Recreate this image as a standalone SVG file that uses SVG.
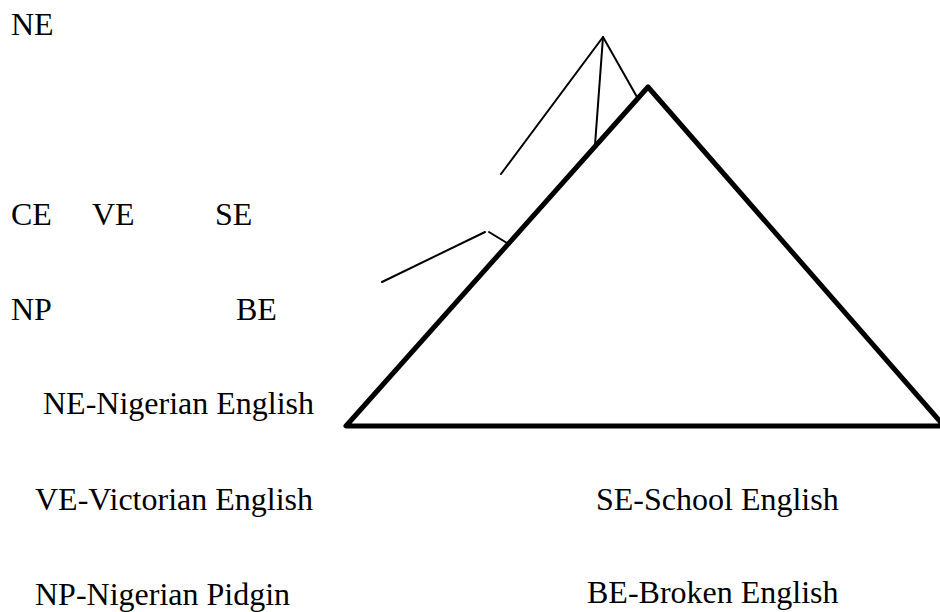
<svg xmlns="http://www.w3.org/2000/svg" width="940" height="612" viewBox="0 0 940 612">
<style>
text{font-family:"Liberation Serif","Times New Roman",serif;font-size:32px;fill:#000}
.thin{stroke:#000;stroke-width:2;fill:none;stroke-linecap:round}
.tri{stroke:#000;stroke-width:5;fill:none;stroke-linejoin:round}
</style>
<rect width="940" height="612" fill="#fff"/>
<g id="triangle"><polygon class="tri" points="648,87 346,426 944,426"/></g>
<g id="connectors">
<line class="thin" x1="603" y1="37" x2="501" y2="174"/>
<line class="thin" x1="603" y1="37" x2="595" y2="145"/>
<line class="thin" x1="603" y1="37" x2="637" y2="97"/>
<line class="thin" x1="382" y1="282" x2="485" y2="232"/>
<line class="thin" x1="489" y1="232" x2="507" y2="243"/>
</g>
<g id="NE"><text x="11" y="35">NE</text></g>
<g id="CE"><text x="11" y="225">CE</text></g>
<g id="VE"><text x="92" y="225">VE</text></g>
<g id="SE"><text x="215" y="225">SE</text></g>
<g id="NP"><text x="11" y="320">NP</text></g>
<g id="BE"><text x="236" y="320">BE</text></g>
<g id="legend">
<text x="43" y="414">NE-Nigerian English</text>
<text x="35" y="510">VE-Victorian English</text>
<text x="596" y="510">SE-School English</text>
<text x="35" y="605">NP-Nigerian Pidgin</text>
<text x="587" y="603">BE-Broken English</text>
</g>
</svg>
